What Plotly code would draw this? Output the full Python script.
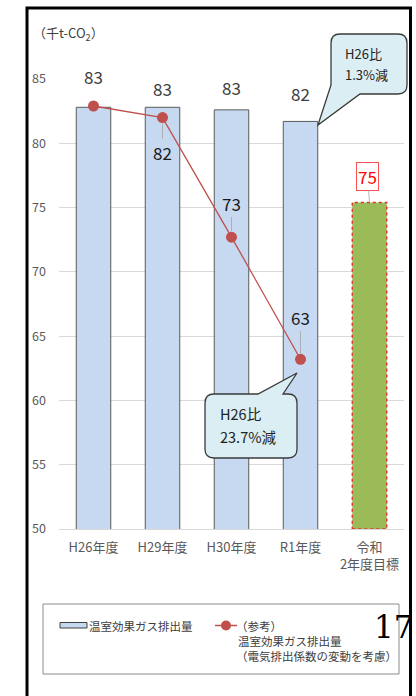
import plotly.graph_objects as go

# ---------------- data ----------------
categories = ["H26年度", "H29年度", "H30年度", "R1年度", "令和<br>2年度目標"]
emissions = [82.8, 82.8, 82.6, 81.7]          # 温室効果ガス排出量 (bars)
emission_labels = ["83", "83", "83", "82"]
target = [75.4]                                  # 令和2年度目標
target_labels = ["75"]
reference = [82.9, 82.0, 72.7, 63.2]            # （参考）電気排出係数の変動を考慮
reference_labels = ["", "82", "73", "63"]
y_ticks = [50, 55, 60, 65, 70, 75, 80, 85]

# ---------------- layout helpers (page pixel -> paper) ----------------
FW, FH = 416, 696
PLOT_L, PLOT_R, PLOT_T, PLOT_B = 59, 404, 79, 529   # plot area in page pixels
L, R, T, B = PLOT_L, FW - PLOT_R, PLOT_T, FH - PLOT_B
PW, PH = PLOT_R - PLOT_L, PLOT_B - PLOT_T


def pxx(x):
    return (x - PLOT_L) / PW


def pxy(y):
    return (PLOT_B - y) / PH


def path(cmds):
    out = []
    for c in cmds:
        if isinstance(c, str):
            out.append(c)
        else:
            out.append(f"{pxx(c[0]):.5f},{pxy(c[1]):.5f}")
    return " ".join(out)


FONT = "Noto Sans CJK JP, Noto Sans, sans-serif"
BAR_BLUE = "#C6D9F1"
RED = "#C0504D"

fig = go.Figure()

fig.add_trace(go.Bar(
    x=categories[:4], y=emissions, width=0.5,
    marker=dict(color=BAR_BLUE, line=dict(color="#595959", width=1)),
    name="温室効果ガス排出量", showlegend=False, hoverinfo="x+y",
))
fig.add_trace(go.Bar(
    x=categories[4:], y=target, width=0.5,
    marker=dict(color="#9BBB59", line=dict(width=0)),
    name="令和2年度目標", showlegend=False, hoverinfo="x+y",
))
fig.add_trace(go.Scatter(
    x=categories[:4], y=reference, mode="lines+markers",
    line=dict(color=RED, width=1.3),
    marker=dict(color=RED, size=11),
    name="（参考）温室効果ガス排出量（電気排出係数の変動を考慮）",
    showlegend=False, hoverinfo="x+y",
))

shapes = []
annotations = []

# dashed red border around target bar (from data)
tgt_idx = 4
shapes.append(dict(type="rect", xref="x", yref="y",
                   x0=tgt_idx - 0.25, x1=tgt_idx + 0.25, y0=y_ticks[0], y1=target[0],
                   line=dict(color="#E03030", width=1.4, dash="dot"),
                   fillcolor="rgba(0,0,0,0)", layer="above"))

# bar value labels
bar_label_shift = [31, 19, 22, 28]
for i, (c, v, t) in enumerate(zip(categories, emissions, emission_labels)):
    annotations.append(dict(x=c, y=v, xref="x", yref="y", text=t, showarrow=False,
                            yshift=bar_label_shift[i], yanchor="middle",
                            font=dict(family=FONT, size=17, color="#404040")))

# reference line labels with leader lines
ref_label_offset = [0, 35, -34, -42]
for i, (c, v, t) in enumerate(zip(categories, reference, reference_labels)):
    if not t:
        continue
    annotations.append(dict(x=c, y=v, xref="x", yref="y", text=t, showarrow=True,
                            ax=0, ay=ref_label_offset[i], arrowhead=0, arrowwidth=0.8,
                            arrowcolor="#A6A6A6", standoff=6,
                            font=dict(family=FONT, size=17, color="#1A1A1A")))

# target label (red box)
annotations.append(dict(x=categories[4], y=target[0], xref="x", yref="y", text=target_labels[0],
                        showarrow=True, ax=-2, ay=-26, arrowhead=0, arrowwidth=0.8,
                        arrowcolor="#A6A6A6", standoff=1,
                        bordercolor="#FF5050", borderwidth=1, borderpad=1, bgcolor="white",
                        font=dict(family=FONT, size=17, color="#FF0000")))

# callout bubbles
BUB_FILL = "#DBEEF4"
BUB_LINE = "#3A3A3A"
shapes.append(dict(type="path", xref="paper", yref="paper", layer="above",
                   path=path(["M", (340, 34), "L", (398, 34), "Q", (407, 34), (407, 43),
                              "L", (407, 85), "Q", (407, 94), (398, 94), "L", (360, 94),
                              "L", (318, 125), "L", (331, 85), "L", (331, 43),
                              "Q", (331, 34), (340, 34), "Z"]),
                   fillcolor=BUB_FILL, line=dict(color=BUB_LINE, width=1.3)))
shapes.append(dict(type="path", xref="paper", yref="paper", layer="above",
                   path=path(["M", (214, 394), "L", (258, 394), "L", (297, 373),
                              "L", (283, 394), "L", (288, 394), "Q", (297, 394), (297, 403),
                              "L", (297, 449), "Q", (297, 458), (288, 458), "L", (214, 458),
                              "Q", (205, 458), (205, 449), "L", (205, 403),
                              "Q", (205, 394), (214, 394), "Z"]),
                   fillcolor=BUB_FILL, line=dict(color=BUB_LINE, width=1.3)))

for txt, x, y, s in [("H26比", 343, 53, 13), ("1.3%減", 343, 74, 13),
                     ("H26比", 218, 413, 14.5), ("23.7%減", 218, 436, 14.5)]:
    annotations.append(dict(x=pxx(x), y=pxy(y), xref="paper", yref="paper", text=txt,
                            showarrow=False, xanchor="left", yanchor="middle",
                            font=dict(family=FONT, size=s, color="#222222")))

# unit label
annotations.append(dict(x=pxx(31), y=pxy(33), xref="paper", yref="paper",
                        text="（千t-CO<sub>2</sub>）", showarrow=False,
                        xanchor="left", yanchor="middle",
                        font=dict(family=FONT, size=13, color="#404040")))

# manual legend
shapes.append(dict(type="rect", xref="paper", yref="paper",
                   x0=pxx(43), x1=pxx(399), y0=pxy(674), y1=pxy(604),
                   line=dict(color="#8C8C8C", width=1), fillcolor="white", layer="below"))
shapes.append(dict(type="rect", xref="paper", yref="paper",
                   x0=pxx(60), x1=pxx(87), y0=pxy(628), y1=pxy(622.5),
                   line=dict(color="#404040", width=1), fillcolor=BAR_BLUE))
shapes.append(dict(type="line", xref="paper", yref="paper",
                   x0=pxx(215), x1=pxx(237), y0=pxy(625.5), y1=pxy(625.5),
                   line=dict(color=RED, width=1.5)))
shapes.append(dict(type="circle", xref="paper", yref="paper",
                   x0=pxx(221), x1=pxx(231), y0=pxy(630.5), y1=pxy(620.5),
                   line=dict(color=RED, width=0), fillcolor=RED))
for txt, x, y in [("温室効果ガス排出量", 87, 626), ("（参考）", 234, 626),
                  ("温室効果ガス排出量", 236, 641), ("（電気排出係数の変動を考慮）", 234, 656)]:
    annotations.append(dict(x=pxx(x), y=pxy(y), xref="paper", yref="paper", text=txt,
                            showarrow=False, xanchor="left", yanchor="middle",
                            font=dict(family=FONT, size=11.5, color="#404040")))

# page number
annotations.append(dict(x=pxx(393), y=pxy(627), xref="paper", yref="paper", text="17",
                        showarrow=False, xanchor="center", yanchor="middle",
                        font=dict(family="DejaVu Serif, Liberation Serif, serif", size=31,
                                  color="#000000")))

# outer frame
shapes.append(dict(type="rect", xref="paper", yref="paper",
                   x0=pxx(27), x1=pxx(410.5), y0=pxy(760), y1=pxy(8),
                   line=dict(color="#000000", width=3), fillcolor="rgba(0,0,0,0)", layer="above"))

fig.update_layout(
    width=FW, height=FH,
    margin=dict(l=L, r=R, t=T, b=B, pad=0),
    paper_bgcolor="white", plot_bgcolor="white",
    showlegend=False,
    barmode="overlay",
    font=dict(family=FONT, color="#595959"),
    shapes=shapes, annotations=annotations,
    xaxis=dict(type="category", categoryorder="array", categoryarray=categories,
               tickfont=dict(family=FONT, size=13, color="#595959"),
               showgrid=False, showline=True, linecolor="#D9D9D9", linewidth=1,
               ticks="", ticklabelstandoff=6, fixedrange=True),
    yaxis=dict(range=[y_ticks[0], y_ticks[-1]], tickvals=y_ticks,
               tickfont=dict(family=FONT, size=12.5, color="#595959"),
               showgrid=True, gridcolor="#D9D9D9", gridwidth=1,
               zeroline=False, showline=False, ticks="", ticklabelstandoff=12,
               fixedrange=True),
)

fig.write_html("out.html",
               config={"displayModeBar": False},
               post_script="document.body.style.margin='0';"
                           "document.body.style.overflow='hidden';")
